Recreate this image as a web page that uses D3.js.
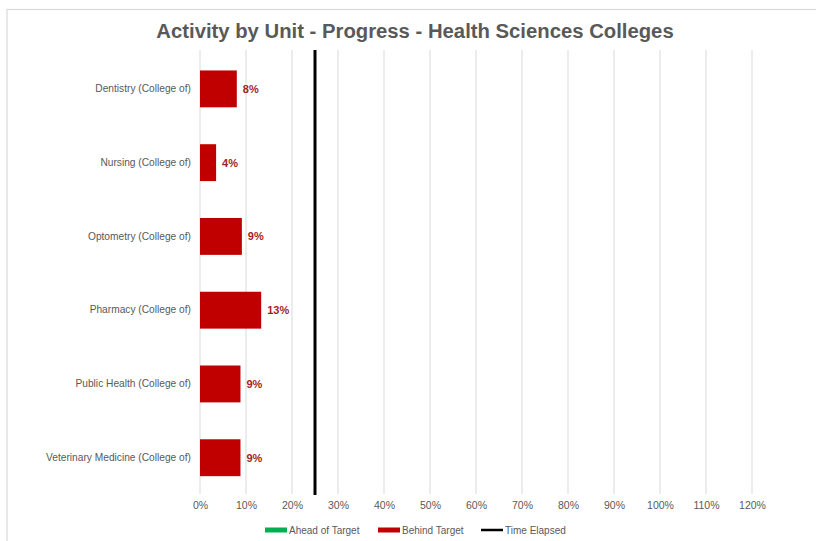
<!DOCTYPE html>
<html><head><meta charset="utf-8">
<script src="https://cdn.jsdelivr.net/npm/d3@7"></script>
<style>body{margin:0;background:#fff}svg{display:block;font-family:"Liberation Sans",Arial,sans-serif}</style>
</head><body><svg id="c" width="816" height="541"></svg>
<script>
const categories = ["Dentistry (College of)","Nursing (College of)","Optometry (College of)","Pharmacy (College of)","Public Health (College of)","Veterinary Medicine (College of)"];
const behindValues = [8.0, 3.5, 9.1, 13.3, 8.8, 8.8];
const behindLabels = ["8%","4%","9%","13%","9%","9%"];
const timeElapsed = 25;
const tickValues = [0,10,20,30,40,50,60,70,80,90,100,110,120];
const legendItems = [{name:"Ahead of Target",color:"#00B050",type:"bar"},{name:"Behind Target",color:"#C00000",type:"bar"},{name:"Time Elapsed",color:"#000",type:"line"}];

const svg = d3.select("#c");
svg.append("rect").attr("x",7).attr("y",9.5).attr("width",830).attr("height",560).attr("fill","#fff").attr("stroke","#d9d9d9").attr("stroke-width",1.2);

const x = d3.scaleLinear().domain([0,120]).range([200,752]);
const y = d3.scaleBand().domain(categories).range([52,494.6]).paddingInner(0.5).paddingOuter(0.25);

svg.append("text").attr("x",415).attr("y",38).attr("text-anchor","middle").attr("font-size",20.3).attr("font-weight","bold").attr("fill","#595959").text("Activity by Unit - Progress - Health Sciences Colleges");

// gridlines
svg.append("g").selectAll("line").data(tickValues).join("line")
  .attr("x1",d=>x(d)).attr("x2",d=>x(d)).attr("y1",50).attr("y2",494)
  .attr("stroke","#d9d9d9").attr("stroke-width",1);

// axis tick labels
const xAxis = d3.axisBottom(x).tickValues(tickValues).tickFormat(d=>d+"%").tickSize(0).tickPadding(8);
const gx = svg.append("g").attr("transform","translate(0,494)").call(xAxis);
gx.select(".domain").remove();
gx.selectAll("text").attr("font-size",10.5).attr("fill","#595959").attr("font-family","Liberation Sans, Arial, sans-serif");

// y axis labels
const yAxis = d3.axisLeft(y).tickSize(0).tickPadding(9);
const gy = svg.append("g").attr("transform","translate(200,0)").call(yAxis);
gy.select(".domain").remove();
gy.selectAll("text").attr("font-size",10.2).attr("fill","#595959").attr("font-family","Liberation Sans, Arial, sans-serif");

// bars
svg.append("g").selectAll("rect").data(categories).join("rect")
  .attr("x",x(0)).attr("y",d=>y(d)).attr("width",(d,i)=>x(behindValues[i])-x(0)).attr("height",y.bandwidth())
  .attr("fill","#C00000");

svg.append("g").selectAll("text").data(categories).join("text")
  .attr("x",(d,i)=>x(behindValues[i])+6).attr("y",d=>y(d)+y.bandwidth()/2).attr("dy","0.35em")
  .attr("font-size",11).attr("font-weight","bold").attr("fill","#A31E23").text((d,i)=>behindLabels[i]);

// time elapsed line
svg.append("line").attr("x1",x(timeElapsed)).attr("x2",x(timeElapsed)).attr("y1",50).attr("y2",495)
  .attr("stroke","#000").attr("stroke-width",3);

// legend
const lx = [265,378,481];
const lg = svg.append("g");
legendItems.forEach((it,i)=>{
  if(it.type==="bar") lg.append("rect").attr("x",lx[i]).attr("y",527.5).attr("width",22).attr("height",5).attr("fill",it.color);
  else lg.append("line").attr("x1",lx[i]).attr("x2",lx[i]+22).attr("y1",530).attr("y2",530).attr("stroke",it.color).attr("stroke-width",2.5);
  lg.append("text").attr("x",lx[i]+24).attr("y",530).attr("dy","0.35em").attr("font-size",10).attr("fill","#595959").text(it.name);
});
</script></body></html>
